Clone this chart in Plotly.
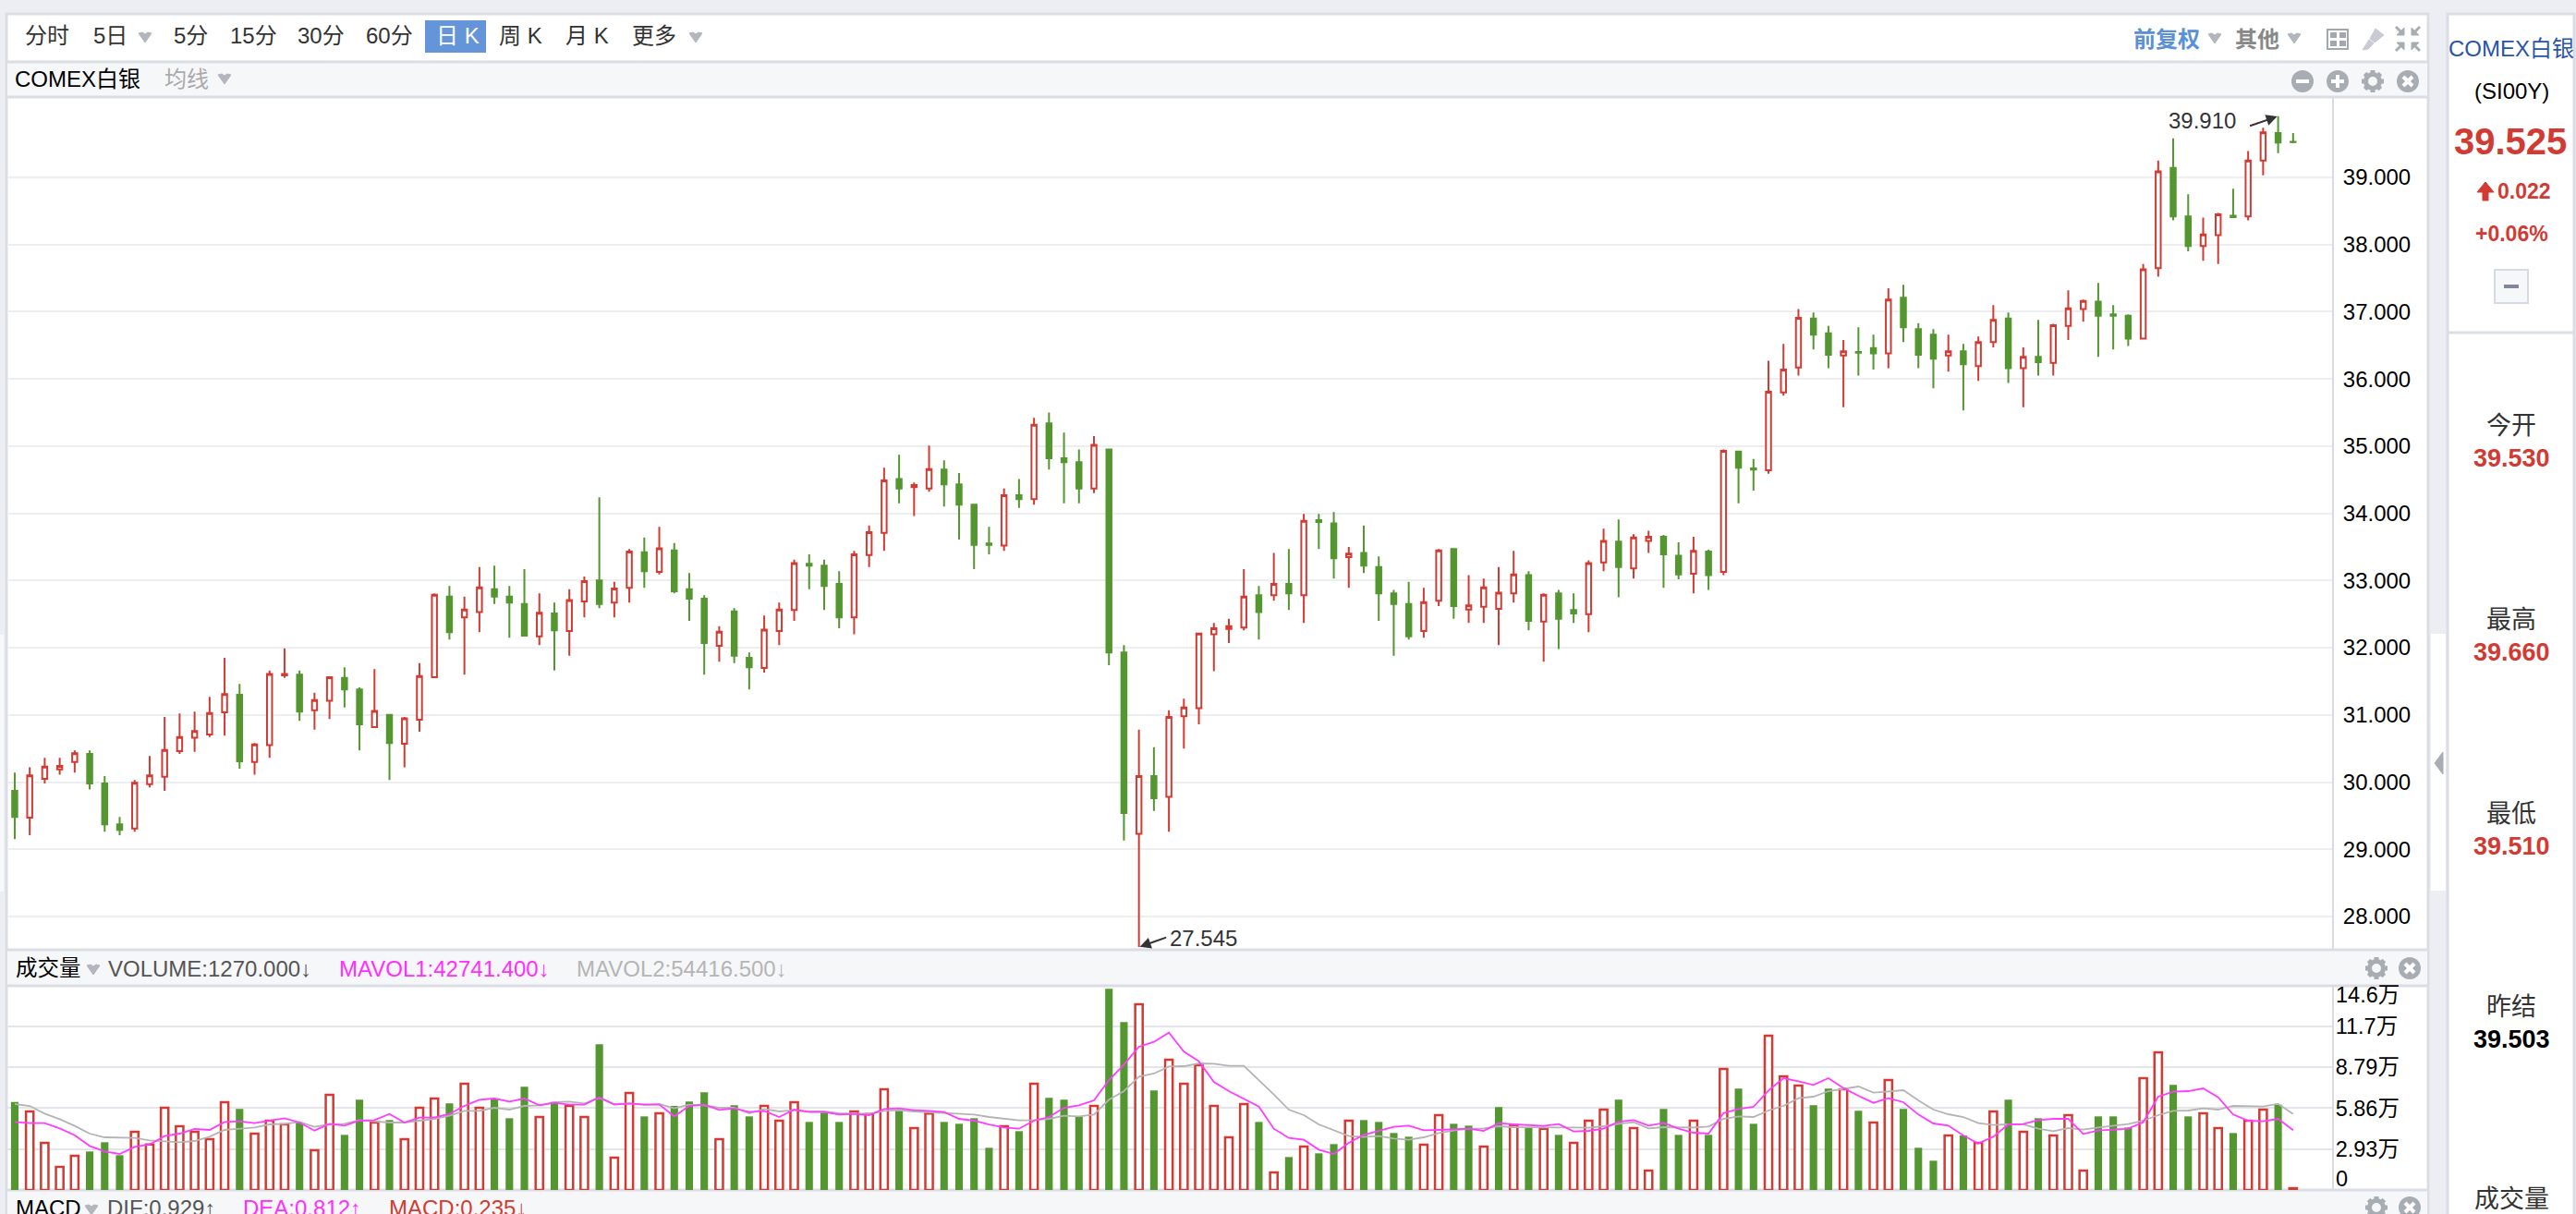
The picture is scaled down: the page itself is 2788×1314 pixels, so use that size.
import plotly.graph_objects as go

W, H = 2788, 1314

opens = [29.87,29.47,30.05,30.19,30.30,30.42,29.98,29.37,29.31,29.97,
         30.08,30.46,30.66,30.71,31.04,31.30,30.30,30.55,31.59,31.60,
         31.07,31.21,31.55,31.38,30.82,31.00,30.57,30.93,31.56,32.76,
         32.45,32.53,32.87,32.76,32.65,32.17,32.51,32.25,32.69,33.00,
         32.67,32.89,33.42,33.13,33.45,32.87,32.73,32.03,32.54,31.85,
         31.70,32.25,32.56,33.25,33.22,32.95,32.45,33.38,33.71,34.51,
         34.39,34.37,34.65,34.43,34.13,33.55,33.52,34.27,34.21,35.34,
         34.82,34.76,34.37,34.95,31.93,29.23,30.09,29.78,30.98,31.10,
         32.20,32.28,32.30,32.78,32.78,32.95,32.78,33.90,33.85,33.35,
         33.41,33.20,32.81,32.65,32.25,32.70,33.47,32.57,32.61,32.58,
         32.81,33.08,32.39,32.81,32.56,32.50,33.27,33.58,33.18,33.59,
         33.65,33.37,33.10,33.43,33.13,34.92,34.67,34.64,35.80,36.17,
         36.90,36.68,36.35,36.40,36.46,36.38,37.21,36.74,36.66,36.35,
         36.41,36.19,36.55,36.90,36.16,36.33,36.24,36.79,37.04,37.15,
         36.96,36.94,36.60,37.65,39.14,38.42,37.98,38.14,38.43,38.42,
         39.25,39.66,39.53]
highs = [30.14,30.22,30.36,30.36,30.47,30.47,30.09,29.48,30.03,30.39,
         30.97,31.02,31.05,31.27,31.85,31.46,30.58,31.66,31.99,31.66,
         31.33,31.57,31.71,31.41,31.68,31.00,30.97,31.77,32.81,32.92,
         32.76,33.20,33.22,32.92,33.17,32.81,32.67,32.87,33.06,34.24,
         32.98,33.47,33.64,33.80,33.56,33.11,32.78,32.32,32.59,31.93,
         32.48,32.67,33.31,33.39,33.31,33.14,33.44,33.82,34.68,34.87,
         34.46,35.01,34.79,34.60,34.13,33.80,34.37,34.51,35.42,35.50,
         35.20,34.95,35.15,34.95,32.04,30.78,30.52,31.07,31.24,32.21,
         32.37,32.43,33.17,32.92,33.41,33.47,33.99,33.99,34.02,33.50,
         33.82,33.36,32.86,32.98,32.89,33.47,33.47,33.08,33.03,33.20,
         33.44,33.14,32.81,32.86,32.81,33.30,33.77,33.91,33.69,33.74,
         33.68,33.57,33.65,33.46,34.95,34.92,34.81,36.27,36.52,37.04,
         36.99,36.79,36.58,36.77,36.66,37.35,37.40,36.83,36.74,36.66,
         36.52,36.63,37.10,36.99,36.47,36.88,36.82,37.32,37.18,37.43,
         37.10,36.96,37.71,39.25,39.58,38.75,38.40,38.47,38.83,39.39,
         39.74,39.91,39.66]
lows = [29.15,29.21,29.98,30.11,30.14,29.89,29.26,29.21,29.26,29.92,
        29.87,30.42,30.45,30.67,30.69,30.20,30.11,30.36,31.55,30.91,
        30.78,30.94,31.11,30.47,30.82,30.03,30.22,30.75,31.56,32.12,
        31.60,32.23,32.65,32.15,32.18,32.04,31.66,31.88,32.45,32.59,
        32.45,32.67,32.89,33.09,32.81,32.40,31.60,31.79,31.77,31.38,
        31.63,32.04,32.40,32.87,32.56,32.29,32.20,33.20,33.44,34.15,
        33.96,34.32,34.10,33.61,33.17,33.39,33.44,34.08,34.13,34.65,
        34.15,34.15,34.30,31.74,29.13,27.545,29.57,29.26,30.50,30.86,
        31.65,32.07,32.26,32.12,32.70,32.56,32.37,33.47,33.03,32.89,
        33.11,32.40,31.88,32.12,32.15,32.62,32.43,32.37,32.37,32.04,
        32.67,32.26,31.79,31.98,32.37,32.23,33.14,32.75,33.03,33.41,
        32.89,33.02,32.81,32.86,33.08,34.15,34.34,34.59,35.75,36.05,
        36.44,36.16,35.58,36.05,36.14,36.16,36.55,36.16,35.86,36.11,
        35.53,35.97,36.47,35.94,35.58,36.05,36.05,36.58,36.85,36.33,
        36.44,36.49,36.59,37.52,38.36,37.90,37.76,37.71,38.40,38.36,
        39.03,39.36,39.51]
closes = [29.48,30.10,30.23,30.24,30.43,29.98,29.37,29.29,29.99,30.10,
          30.48,30.67,30.76,31.03,31.31,30.31,30.56,31.61,31.61,31.05,
          31.22,31.56,31.38,30.86,31.06,30.58,30.95,31.58,32.79,32.23,
          32.57,32.90,32.76,32.67,32.18,32.52,32.26,32.71,32.99,32.65,
          32.88,33.43,33.14,33.48,32.84,32.73,32.07,32.24,31.88,31.71,
          32.27,32.57,33.26,33.22,32.92,32.45,33.39,33.72,34.49,34.37,
          34.42,34.66,34.43,34.13,33.53,33.53,34.27,34.21,35.32,34.82,
          34.76,34.37,35.02,31.93,29.54,30.09,29.76,30.97,31.11,32.21,
          32.29,32.32,32.76,32.53,32.95,32.81,33.89,33.87,33.33,33.40,
          33.22,32.81,32.65,32.17,32.68,33.45,32.62,32.63,32.90,32.82,
          33.09,32.40,32.79,32.43,32.51,33.26,33.59,33.20,33.64,33.65,
          33.39,33.09,33.44,33.08,34.93,34.68,34.65,35.81,36.14,36.91,
          36.66,36.36,36.41,36.39,36.38,37.18,36.77,36.36,36.30,36.41,
          36.22,36.55,36.88,36.16,36.33,36.25,36.80,37.05,37.16,36.94,
          36.94,36.60,37.63,39.09,38.42,37.98,38.15,38.45,38.41,39.25,
          39.67,39.52,39.525]

volumes = [62980,56150,33690,16500,24440,27530,34130,24880,41620,32590,
           58790,45580,41620,36330,62760,57910,40300,49550,46900,48220,
           28410,68040,39420,64520,48220,49990,36330,58790,65400,61880,
           75970,58790,65400,51310,73770,52190,62980,60110,52190,104150,
           23120,69360,52630,54830,60110,63200,69800,36330,60560,52630,
           60110,49550,62760,48660,55270,48660,56150,54390,72010,56590,
           44260,54610,48660,47340,51310,30170,45580,42060,75970,65840,
           64520,52630,60110,143790,120010,132780,71120,93140,75970,89180,
           60110,37650,61440,48660,12550,23560,31050,26200,32810,49550,
           49990,48660,40740,38090,32370,53510,47340,46020,31050,59230,
           46460,44260,43820,39420,33690,49550,57470,64520,44260,13870,
           57910,39420,49550,39420,86540,72450,47340,110320,81250,74650,
           60560,72450,72010,56590,48220,78610,57910,30170,20920,38980,
           38980,33690,56150,64520,41620,51310,38980,53510,13870,52630,
           52630,44700,79930,98430,75090,52630,54830,44260,40740,49550,
           57470,61000,1270]
volume_dir = ("G R R R R G G G R R R R R R R G R R R G R R G G R G R R R G "
              "R R G G G R G R R G R R G R G G G R G G R R R G G G R R R G "
              "R R G G G G R G R G G G R G G R G R R R R R R G R G R G G R "
              "G G G G R R G G R G R G R G R R R G R R G G R G R G G "
              "R R R G G R G R R G G G R G R R G R G R R R G G G R R G G R R G R R G R").split()

mavol1 = [48660,47780,47780,44040,39200,31490,27530,25760,30830,32590,
          38540,40300,43600,42940,48660,49100,47780,49550,51310,48220,
          42500,47340,46020,49550,49990,54390,48220,51750,51750,54390,
          60110,64520,65400,63200,65400,60560,62320,61000,61000,66280,
          61000,61880,61000,61000,52630,60110,61000,57250,58350,55710,
          56590,52190,57470,55710,55710,53950,54390,53510,57910,58350,
          57030,56590,55710,50870,49550,46900,44700,43820,49550,52190,
          58790,60560,64080,78610,89620,102390,105920,112520,98870,92040,
          77290,70680,64960,59670,43820,37210,35890,28850,25760,33690,
          39420,42060,45140,46020,42720,42940,43380,43820,42280,47780,
          46900,46460,45800,47120,41840,42280,43820,48880,49990,46020,
          48000,43820,40960,40300,55050,57910,59450,71120,79930,77730,
          75090,79930,72890,67380,62320,65620,62760,53950,47560,46020,
          38980,33250,38090,46900,47120,49990,50870,50870,40080,42500,
          42940,43820,48440,66720,70240,70680,72670,66280,53950,49550,
          49100,50870,42741]
mavol2 = [61440,60110,54610,50650,45800,40300,37650,37210,37210,35450,
          34570,34130,35010,38090,42940,43820,44700,46900,47340,48660,
          45140,46900,47340,49990,49100,48220,48220,49550,50870,53070,
          56590,56590,58790,57470,60110,60560,62760,63200,61880,65840,
          61440,61880,61000,61440,58350,61000,60560,58790,58790,54830,
          57910,56150,57030,56150,56150,54830,54390,54390,56590,57030,
          56150,55710,54830,54610,53950,52190,51090,49770,49990,50870,
          53070,52630,53950,64520,70680,81030,83240,88300,88520,90500,
          90280,88740,88740,78830,68260,57470,53510,46900,42940,38540,
          37870,38540,36770,35890,37650,40740,42500,43820,44040,45580,
          44920,44700,44700,44700,44700,44480,45580,47340,48440,44040,
          44920,44700,44700,45360,50870,52630,52190,56810,60110,65620,
          66720,70680,72450,73990,69580,70460,71340,64080,57470,54170,
          52190,47780,46460,46900,46900,43820,42060,44260,43160,44700,
          45800,47120,49550,53510,56590,56810,58350,57470,60110,59670,
          59670,61660,54417]

price_ticks = [28, 29, 30, 31, 32, 33, 34, 35, 36, 37, 38, 39]
price_labels = ["28.000", "29.000", "30.000", "31.000", "32.000", "33.000",
                "34.000", "35.000", "36.000", "37.000", "38.000", "39.000"]
volume_ticks = [29300, 58600, 87900, 117000]
volume_labels = ["2.93万", "5.86万", "8.79万", "11.7万"]

assert all(len(s) == 153 for s in [opens, highs, lows, closes, volumes, volume_dir, mavol1, mavol2])

RED = "#d13b33"
GREEN = "#54962f"
BG = "#eceef3"
BAND = "#f6f7f9"
BORDER = "#dbdde5"
GRID = "#eceef2"
ICON = "#a8acb3"
FONT = "Liberation Sans, Noto Sans CJK SC, sans-serif"

x_vals = list(range(len(closes)))


def px(x):
    return x / W


def py(y):
    return 1 - y / H


shapes = []
annotations = []


def rect(x0, y0, x1, y1, fill, line=None, lw=0):
    shapes.append(dict(type="rect", xref="paper", yref="paper", layer="below",
                       x0=px(x0), x1=px(x1), y0=py(y0), y1=py(y1), fillcolor=fill,
                       line=dict(color=line or fill, width=lw)))


def line(x0, y0, x1, y1, color, lw=2, layer="above"):
    shapes.append(dict(type="line", xref="paper", yref="paper", layer=layer,
                       x0=px(x0), x1=px(x1), y0=py(y0), y1=py(y1),
                       line=dict(color=color, width=lw)))


def poly(points, fill):
    d = "M " + " L ".join(f"{px(a):.6f},{py(b):.6f}" for a, b in points) + " Z"
    shapes.append(dict(type="path", xref="paper", yref="paper", path=d, fillcolor=fill,
                       line=dict(color=fill, width=1)))


def circle(cx, cy, r, fill, line_color=None, lw=0):
    shapes.append(dict(type="circle", xref="paper", yref="paper",
                       x0=px(cx - r), x1=px(cx + r), y0=py(cy - r), y1=py(cy + r),
                       fillcolor=fill, line=dict(color=line_color or fill, width=lw)))


def label(x, y, text, size=24, color="#333333", anchor="left", bold=False):
    annotations.append(dict(xref="paper", yref="paper", x=px(x), y=py(y), text=f"<b>{text}</b>" if bold else text,
                            showarrow=False, xanchor=anchor, yanchor="middle", borderpad=0,
                            font=dict(family=FONT, size=size, color=color)))


def caret(cx, cy):
    poly([(cx - 7, cy - 4), (cx - 3, cy - 5), (cx, cy - 3), (cx + 3, cy - 5), (cx + 7, cy - 4), (cx, cy + 6)], "#b3b6bc")


def close_icon(cx, cy):
    circle(cx, cy, 12, ICON)
    line(cx - 5, cy - 5, cx + 5, cy + 5, "white", 4)
    line(cx - 5, cy + 5, cx + 5, cy - 5, "white", 4)


def gear_icon(cx, cy):
    circle(cx, cy, 7.5, "rgba(0,0,0,0)", ICON, 5)
    for dx, dy in [(0, 1), (1, 0), (0.7, 0.7), (0.7, -0.7)]:
        line(cx - 12 * dx, cy - 12 * dy, cx - 9 * dx, cy - 9 * dy, ICON, 5)
        line(cx + 9 * dx, cy + 9 * dy, cx + 12 * dx, cy + 12 * dy, ICON, 5)


# 左边主卡片
rect(7, 15, 2628, 1320, "white", BORDER, 3)
rect(8, 66, 2627, 105, BAND)
line(7, 67, 2628, 67, BORDER, 3, "below")
line(7, 105, 2628, 105, BORDER, 3, "below")
rect(8, 1028, 2627, 1067, BAND)
line(7, 1028, 2628, 1028, BORDER, 3, "below")
line(7, 1067, 2628, 1067, BORDER, 3, "below")
rect(8, 1288, 2627, 1320, BAND)
line(7, 1288, 2628, 1288, BORDER, 3, "below")
rect(0, 687, 4, 965, "#f8f9fb")

# 右边报价卡片
rect(2649, 15, 2786, 1320, "white", BORDER, 3)
line(2649, 360, 2786, 360, BORDER, 3, "below")
rect(2631, 686, 2647, 964, "white")
poly([(2644, 814), (2644, 838), (2635, 826)], ICON)

# 工具栏
for x, text in [(26, "分时"), (100, "5日"), (187, "5分"), (248, "15分"), (321, "30分"), (395, "60分"),
                (539, "周 K"), (611, "月 K"), (683, "更多")]:
    label(x, 39, text)
caret(157, 40)
caret(753, 40)
rect(460, 22, 526, 57, "#6495d8")
label(471, 39, "日 K", color="white")
label(2308, 42, "前复权", 24, "#5b8fd6", bold=True)
caret(2397, 41)
label(2418, 42, "其他", 24, "#888888", bold=True)
caret(2483, 41)

# 右上角小图标
rect(2519, 32, 2541, 53, "white", "#a3a7ae", 2)
for gx, gy in [(2522, 35), (2532, 35), (2522, 44), (2532, 44)]:
    rect(gx, gy, gx + 7, gy + 6, "#a3a7ae")
poly([(2571, 31), (2580, 38), (2570, 46), (2565, 42)], "#c8cad4")
poly([(2564, 43), (2569, 47), (2563, 53), (2557, 54)], "#c8cad4")
for sx, sy in [(-1, -1), (1, -1), (-1, 1), (1, 1)]:
    cx, cy = 2606 + 4 * sx, 42 + 4 * sy
    poly([(cx, cy), (cx + 8 * sx, cy), (cx, cy + 8 * sy)], "#a8acb3")
    line(cx + 3 * sx, cy + 3 * sy, cx + 9 * sx, cy + 9 * sy, "#a8acb3", 3)

# 第二栏
label(15, 85, "COMEX白银", 24, "#000000")
label(177, 85, "均线", 24, "#aaaaaa")
caret(243, 85)
circle(2492, 88, 12, ICON)
line(2485, 88, 2499, 88, "white", 4)
circle(2530, 88, 12, ICON)
line(2523, 88, 2537, 88, "white", 4)
line(2530, 81, 2530, 95, "white", 4)
gear_icon(2568, 88)
close_icon(2606, 88)

# 成交量栏
label(16, 1048, "成交量", 23.5, "#000000")
caret(101, 1049)
label(116, 1048, "VOLUME:1270.000↓", 24, "#555555")
label(366, 1048, "MAVOL1:42741.400↓", 24, "#ff2fff")
label(623, 1048, "MAVOL2:54416.500↓", 24, "#b5b5b5")
gear_icon(2572, 1048)
close_icon(2608, 1048)

# MACD栏
label(16, 1307, "MACD", 24, "#000000")
caret(99, 1309)
label(115, 1307, "DIF:0.929↑", 24, "#555555")
label(262, 1307, "DEA:0.812↑", 24, "#ff2fff")
label(420, 1307, "MACD:0.235↓", 24, RED)
gear_icon(2572, 1307)
close_icon(2608, 1307)

# 右侧报价
label(2718, 52, "COMEX白银", 24, "#2a55a5", "center")
label(2718, 98, "(SI00Y)", 24, "#000000", "center")
label(2717, 153, "39.525", 40, RED, "center", True)
poly([(2690, 197), (2699, 208), (2693, 208), (2693, 217), (2687, 217), (2687, 208), (2681, 208)], RED)
label(2702, 207, "0.022", 23, RED, bold=True)
label(2718, 253, "+0.06%", 23, RED, "center", True)
rect(2700, 292, 2736, 328, BAND, "#d8dae3", 2)
line(2710, 310, 2726, 310, "#7f8799", 4)
for y, name, value, color in [(461, "今开", "39.530", RED), (671, "最高", "39.660", RED),
                              (881, "最低", "39.510", RED), (1090, "昨结", "39.503", "#000000")]:
    label(2718, y, name, 27, "#333333", "center")
    label(2718, y + 35, value, 27, color, "center", True)
label(2718, 1298, "成交量", 27, "#333333", "center")

# 成交量坐标轴的两头标签
label(2527, 1077, "14.6万", 23.5, "#000000")
label(2527, 1276, "0", 23.5, "#000000")

# 最高最低价标注
annotations.append(dict(x=75, y=27.545, xref="x", yref="y", text="", showarrow=True, ax=31, ay=-11,
                        arrowhead=2, arrowsize=1.2, arrowwidth=2, arrowcolor="#333333", standoff=1))
annotations.append(dict(x=75, y=27.545, xref="x", yref="y", text="27.545", showarrow=False, xanchor="left",
                        xshift=31, yshift=10, font=dict(family=FONT, size=24, color="#333333")))
annotations.append(dict(x=151, y=39.91, xref="x", yref="y", text="", showarrow=True, ax=-32, ay=11,
                        arrowhead=2, arrowsize=1.2, arrowwidth=2, arrowcolor="#333333", standoff=1))
annotations.append(dict(x=151, y=39.91, xref="x", yref="y", text="39.910", showarrow=False, xanchor="right",
                        xshift=-44, yshift=-5, font=dict(family=FONT, size=24, color="#333333")))

fig = go.Figure()

fig.add_trace(go.Candlestick(
    x=x_vals, open=opens, high=highs, low=lows, close=closes,
    whiskerwidth=0,
    increasing=dict(line=dict(color=RED, width=2), fillcolor="white"),
    decreasing=dict(line=dict(color=GREEN, width=2), fillcolor=GREEN),
    showlegend=False, xaxis="x", yaxis="y"))

up_x = [i for i in x_vals if volume_dir[i] == "R"]
down_x = [i for i in x_vals if volume_dir[i] == "G"]
fig.add_trace(go.Bar(x=down_x, y=[volumes[i] for i in down_x], width=0.5,
                     marker=dict(color=GREEN, line=dict(width=0)),
                     showlegend=False, xaxis="x2", yaxis="y2"))
fig.add_trace(go.Bar(x=up_x, y=[volumes[i] for i in up_x], width=0.5,
                     marker=dict(color="white", line=dict(color=RED, width=2.5)),
                     showlegend=False, xaxis="x2", yaxis="y2"))
fig.add_trace(go.Scatter(x=x_vals, y=mavol2, mode="lines", line=dict(color="#b4b4b4", width=1.8),
                         showlegend=False, xaxis="x2", yaxis="y2"))
fig.add_trace(go.Scatter(x=x_vals, y=mavol1, mode="lines", line=dict(color="#ff3cff", width=1.8),
                         showlegend=False, xaxis="x2", yaxis="y2"))

x_range = [-0.49, 154.6]
x_domain = [px(8), px(2524)]

fig.update_layout(
    width=W, height=H,
    margin=dict(l=0, r=0, t=0, b=0),
    autosize=False,
    paper_bgcolor=BG,
    plot_bgcolor="rgba(0,0,0,0)",
    barmode="overlay",
    boxgap=0.52,
    hovermode=False,
    font=dict(family=FONT),
    shapes=shapes,
    annotations=annotations,
    xaxis=dict(domain=x_domain, range=x_range, anchor="y", showgrid=False, showticklabels=False,
               zeroline=False, rangeslider=dict(visible=False), fixedrange=True),
    yaxis=dict(domain=[py(1028), py(105)], range=[27.505, 40.196], anchor="x", side="right",
               tickvals=price_ticks, ticktext=price_labels, ticks="", ticklabelstandoff=5,
               tickfont=dict(family=FONT, size=24, color="#000000"),
               gridcolor=GRID, gridwidth=2, zeroline=False, showline=True, linecolor="#d8dae3",
               linewidth=2, fixedrange=True),
    xaxis2=dict(domain=x_domain, range=x_range, anchor="y2", showgrid=False, showticklabels=False,
                zeroline=False, fixedrange=True),
    yaxis2=dict(domain=[py(1288), py(1067)], range=[0, 146000], anchor="x2", side="right",
                tickvals=volume_ticks, ticktext=volume_labels, ticks="", ticklabelstandoff=-3,
                tickfont=dict(family=FONT, size=23.5, color="#000000"),
                gridcolor="#e4e5ea", gridwidth=2, zeroline=False, showline=True, linecolor="#d8dae3",
                linewidth=2, fixedrange=True),
)

fig.write_html("out.html", config={"displayModeBar": False},
               post_script="document.body.style.margin='0';document.body.style.overflow='hidden';")
